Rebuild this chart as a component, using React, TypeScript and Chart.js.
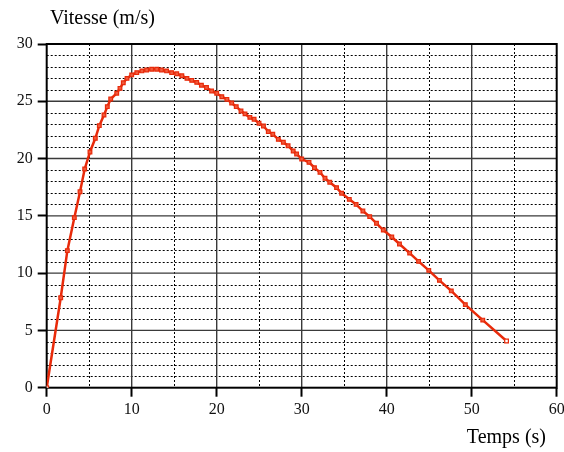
import React, { useEffect, useRef } from "react";
import { Chart, registerables } from "chart.js";

Chart.register(...registerables);

const timeS: number[] = [
  0, 1.65, 2.43, 3.25, 3.92, 4.47, 5.09, 5.72, 6.19, 6.74, 7.13, 7.53, 8.24, 8.62, 9.01, 9.45,
  10.0, 10.6, 11.2, 11.76, 12.35, 12.94, 13.5, 14.1, 14.7, 15.3, 15.9, 16.5, 17.06, 17.65,
  18.2, 18.8, 19.4, 20.0, 20.6, 21.2, 21.76, 22.3, 22.86, 23.33, 23.9, 24.4, 24.98, 25.5,
  26.07, 26.6, 27.25, 27.84, 28.4, 29.0, 29.4, 30.0, 30.86, 31.5, 32.15, 32.74, 33.3, 34.1,
  34.7, 35.6, 36.4, 37.2, 38.0, 38.8, 39.6, 40.6, 41.5, 42.7, 43.75, 44.95, 46.2, 47.6,
  49.25, 51.3, 54.1,
];

const speed: number[] = [
  0, 7.85, 11.96, 14.84, 17.1, 19.09, 20.57, 21.77, 22.87, 23.8, 24.53, 25.2, 25.7, 26.13,
  26.62, 27.0, 27.3, 27.5, 27.65, 27.73, 27.8, 27.8, 27.73, 27.65, 27.5, 27.4, 27.23, 27.0,
  26.83, 26.65, 26.4, 26.2, 25.9, 25.7, 25.4, 25.17, 24.85, 24.53, 24.15, 23.9, 23.6, 23.43,
  23.08, 22.84, 22.35, 22.12, 21.68, 21.42, 21.12, 20.66, 20.4, 19.96, 19.67, 19.2, 18.8,
  18.28, 17.93, 17.46, 16.97, 16.44, 16.0, 15.42, 14.93, 14.35, 13.76, 13.15, 12.54, 11.75,
  11.03, 10.24, 9.37, 8.45, 7.25, 5.9, 4.08,
];

const xTicks: number[] = [0, 10, 20, 30, 40, 50, 60];
const yTicks: number[] = [0, 5, 10, 15, 20, 25, 30];
const yAxisTitle = "Vitesse (m/s)";
const xAxisTitle = "Temps (s)";

const RED = "rgb(232,42,10)";
const FONT = "'Liberation Serif', 'Times New Roman', serif";

const gridPlugin = {
  id: "customGrid",
  beforeDatasetsDraw(chart: any) {
    const { ctx, chartArea, scales } = chart;
    const xs = scales.x;
    const ys = scales.y;
    ctx.save();
    // dotted minor horizontal lines
    ctx.strokeStyle = "#000";
    ctx.lineWidth = 1;
    ctx.setLineDash([2, 2]);
    for (let v = 1; v < 30; v++) {
      if (v % 5 === 0) continue;
      const y = Math.round(ys.getPixelForValue(v)) + 0.5;
      ctx.beginPath();
      ctx.moveTo(chartArea.left, y);
      ctx.lineTo(chartArea.right, y);
      ctx.stroke();
    }
    for (let v = 5; v < 60; v += 10) {
      const x = Math.round(xs.getPixelForValue(v)) + 0.5;
      ctx.beginPath();
      ctx.moveTo(x, chartArea.top);
      ctx.lineTo(x, chartArea.bottom);
      ctx.stroke();
    }
    ctx.setLineDash([]);
    ctx.strokeStyle = "#3a3a3a";
    ctx.lineWidth = 1.4;
    for (let v = 5; v < 30; v += 5) {
      const y = ys.getPixelForValue(v);
      ctx.beginPath();
      ctx.moveTo(chartArea.left, y);
      ctx.lineTo(chartArea.right, y);
      ctx.stroke();
    }
    for (let v = 10; v < 60; v += 10) {
      const x = xs.getPixelForValue(v);
      ctx.beginPath();
      ctx.moveTo(x, chartArea.top);
      ctx.lineTo(x, chartArea.bottom);
      ctx.stroke();
    }
    // frame
    ctx.strokeStyle = "#000";
    ctx.lineWidth = 2;
    ctx.strokeRect(chartArea.left, chartArea.top, chartArea.right - chartArea.left, chartArea.bottom - chartArea.top);
    ctx.restore();
  },
  afterDraw(chart: any) {
    const { ctx } = chart;
    ctx.save();
    ctx.fillStyle = "#000";
    ctx.font = `20px ${FONT}`;
    ctx.textBaseline = "alphabetic";
    ctx.textAlign = "left";
    ctx.fillText(yAxisTitle, 50, 24);
    ctx.textAlign = "right";
    ctx.fillText(xAxisTitle, 546, 443);
    ctx.restore();
  },
};

export default function App() {
  const ref = useRef<HTMLCanvasElement | null>(null);
  useEffect(() => {
    if (!ref.current) return;
    const points = timeS.map((t, i) => ({ x: t, y: speed[i] }));
    const bg = points.map((_, i) => (i === 0 || i === points.length - 1 ? "#ffffff" : "rgb(240,90,60)"));
    const chart = new Chart(ref.current, {
      type: "line",
      data: {
        datasets: [
          {
            data: points,
            borderColor: RED,
            borderWidth: 2.5,
            tension: 0,
            pointStyle: "rect",
            pointRadius: 2.6,
            pointBorderWidth: 1.2,
            pointBorderColor: RED,
            pointBackgroundColor: bg,
          },
        ],
      },
      plugins: [gridPlugin],
      options: {
        animation: false,
        responsive: false,
        events: [],
        layout: { padding: { left: 0, top: 44, right: 7.3, bottom: 0 } },
        plugins: { legend: { display: false }, tooltip: { enabled: false } },
        scales: {
          x: {
            type: "linear",
            min: 0,
            max: 60,
            afterBuildTicks: (s: any) => {
              s.ticks = xTicks.map((v) => ({ value: v }));
            },
            afterFit: (s: any) => {
              s.height = 64.3;
              s.paddingLeft = 0;
              s.paddingRight = 0;
            },
            ticks: {
              color: "#111",
              font: { family: FONT, size: 16 },
              padding: 3,
              maxRotation: 0,
              autoSkip: false,
            },
            grid: {
              drawOnChartArea: false,
              drawTicks: true,
              tickLength: 9,
              tickColor: "#000",
              tickWidth: 2,
            },
            border: { display: false },
          },
          y: {
            type: "linear",
            min: 0,
            max: 30,
            afterBuildTicks: (s: any) => {
              s.ticks = yTicks.map((v) => ({ value: v }));
            },
            afterFit: (s: any) => {
              s.width = 46.7;
              s.paddingTop = 0;
              s.paddingBottom = 0;
            },
            ticks: {
              color: "#111",
              font: { family: FONT, size: 16 },
              padding: 5,
              autoSkip: false,
            },
            grid: {
              drawOnChartArea: false,
              drawTicks: true,
              tickLength: 9,
              tickColor: "#000",
              tickWidth: 2,
            },
            border: { display: false },
          },
        },
      },
    });
    return () => chart.destroy();
  }, []);
  return (
    <div style={{ position: "fixed", left: 0, top: 0, width: 564, height: 452, background: "#fff" }}>
      <canvas ref={ref} width={564} height={452} style={{ width: 564, height: 452, display: "block" }} />
    </div>
  );
}
